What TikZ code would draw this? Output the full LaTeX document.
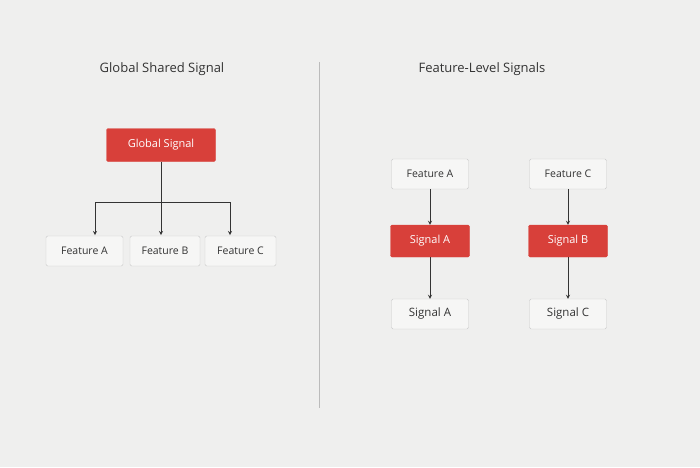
\documentclass[tikz,border=0pt]{standalone}
\usepackage{fontspec}
\setmainfont{Open Sans}
\usetikzlibrary{positioning}
\definecolor{bgcol}{HTML}{EFEFEE}
\definecolor{sigred}{HTML}{D8403A}
\definecolor{boxfill}{HTML}{F6F6F5}
\definecolor{boxline}{HTML}{CACACA}
\definecolor{inkcol}{HTML}{333333}
\begin{document}
\begin{tikzpicture}[
    x=1pt, y=-1pt,
    feat/.style={draw=boxline, fill=boxfill, rectangle, rounded corners=1.5pt, minimum width=77pt, minimum height=30pt, align=center, font=\fontsize{10.5}{12}\selectfont, text=inkcol},
    sig/.style={draw=sigred, fill=sigred, rectangle, rounded corners=1.5pt, minimum width=79pt, minimum height=32pt, align=center, font=\fontsize{11}{13}\selectfont, text=white},
    title/.style={font=\fontsize{13}{15}\selectfont, text=inkcol},
    arrow/.style={->, >=stealth, draw=inkcol, line width=0.8pt},
]
\fill[bgcol] (0,0) rectangle (700,467);

% Titles
\node[title] (tleft) at (162, 69) {Global Shared Signal};
\node[title] (tright) at (482, 69) {Feature-Level Signals};

% Divider
\coordinate (dtop) at (319, 62);
\coordinate (dbot) at (319, 408);
\draw[boxline!80!gray, line width=0.8pt] (dtop) -- (dbot);

% Left: global signal
\node[sig, minimum width=109pt, minimum height=33pt] (global) at (161, 145) {Global Signal};
\node[feat, minimum width=77pt] (fa) at (84.5, 251) {Feature A};
\node[feat, minimum width=70pt] (fb) at (165, 251) {Feature B};
\node[feat, minimum width=71pt] (fc) at (240.5, 251) {Feature C};

\coordinate (split) at (161, 202);
\draw[draw=inkcol, line width=0.8pt] (global.south) -- (split);
\draw[draw=inkcol, line width=0.8pt] (95, 202) -- (230, 202);
\draw[arrow] (95, 202) -- (95, 235);
\draw[arrow] (split) -- (161, 235);
\draw[arrow] (230, 202) -- (230, 235);

% Right: per-feature signals
\node[feat] (rfa) at (430, 174) {Feature A};
\node[feat] (rfc) at (568, 174) {Feature C};
\node[sig] (siga) at (430, 241) {Signal A};
\node[sig] (sigb) at (568, 241) {Signal B};
\node[feat, font=\fontsize{11.5}{13}\selectfont] (outa) at (430, 314) {Signal A};
\node[feat, font=\fontsize{11.5}{13}\selectfont] (outc) at (568, 314) {Signal C};

\draw[arrow] (rfa) -- (siga);
\draw[arrow] (rfc) -- (sigb);
\draw[arrow] (siga) -- (outa);
\draw[arrow] (sigb) -- (outc);

\end{tikzpicture}
\end{document}
